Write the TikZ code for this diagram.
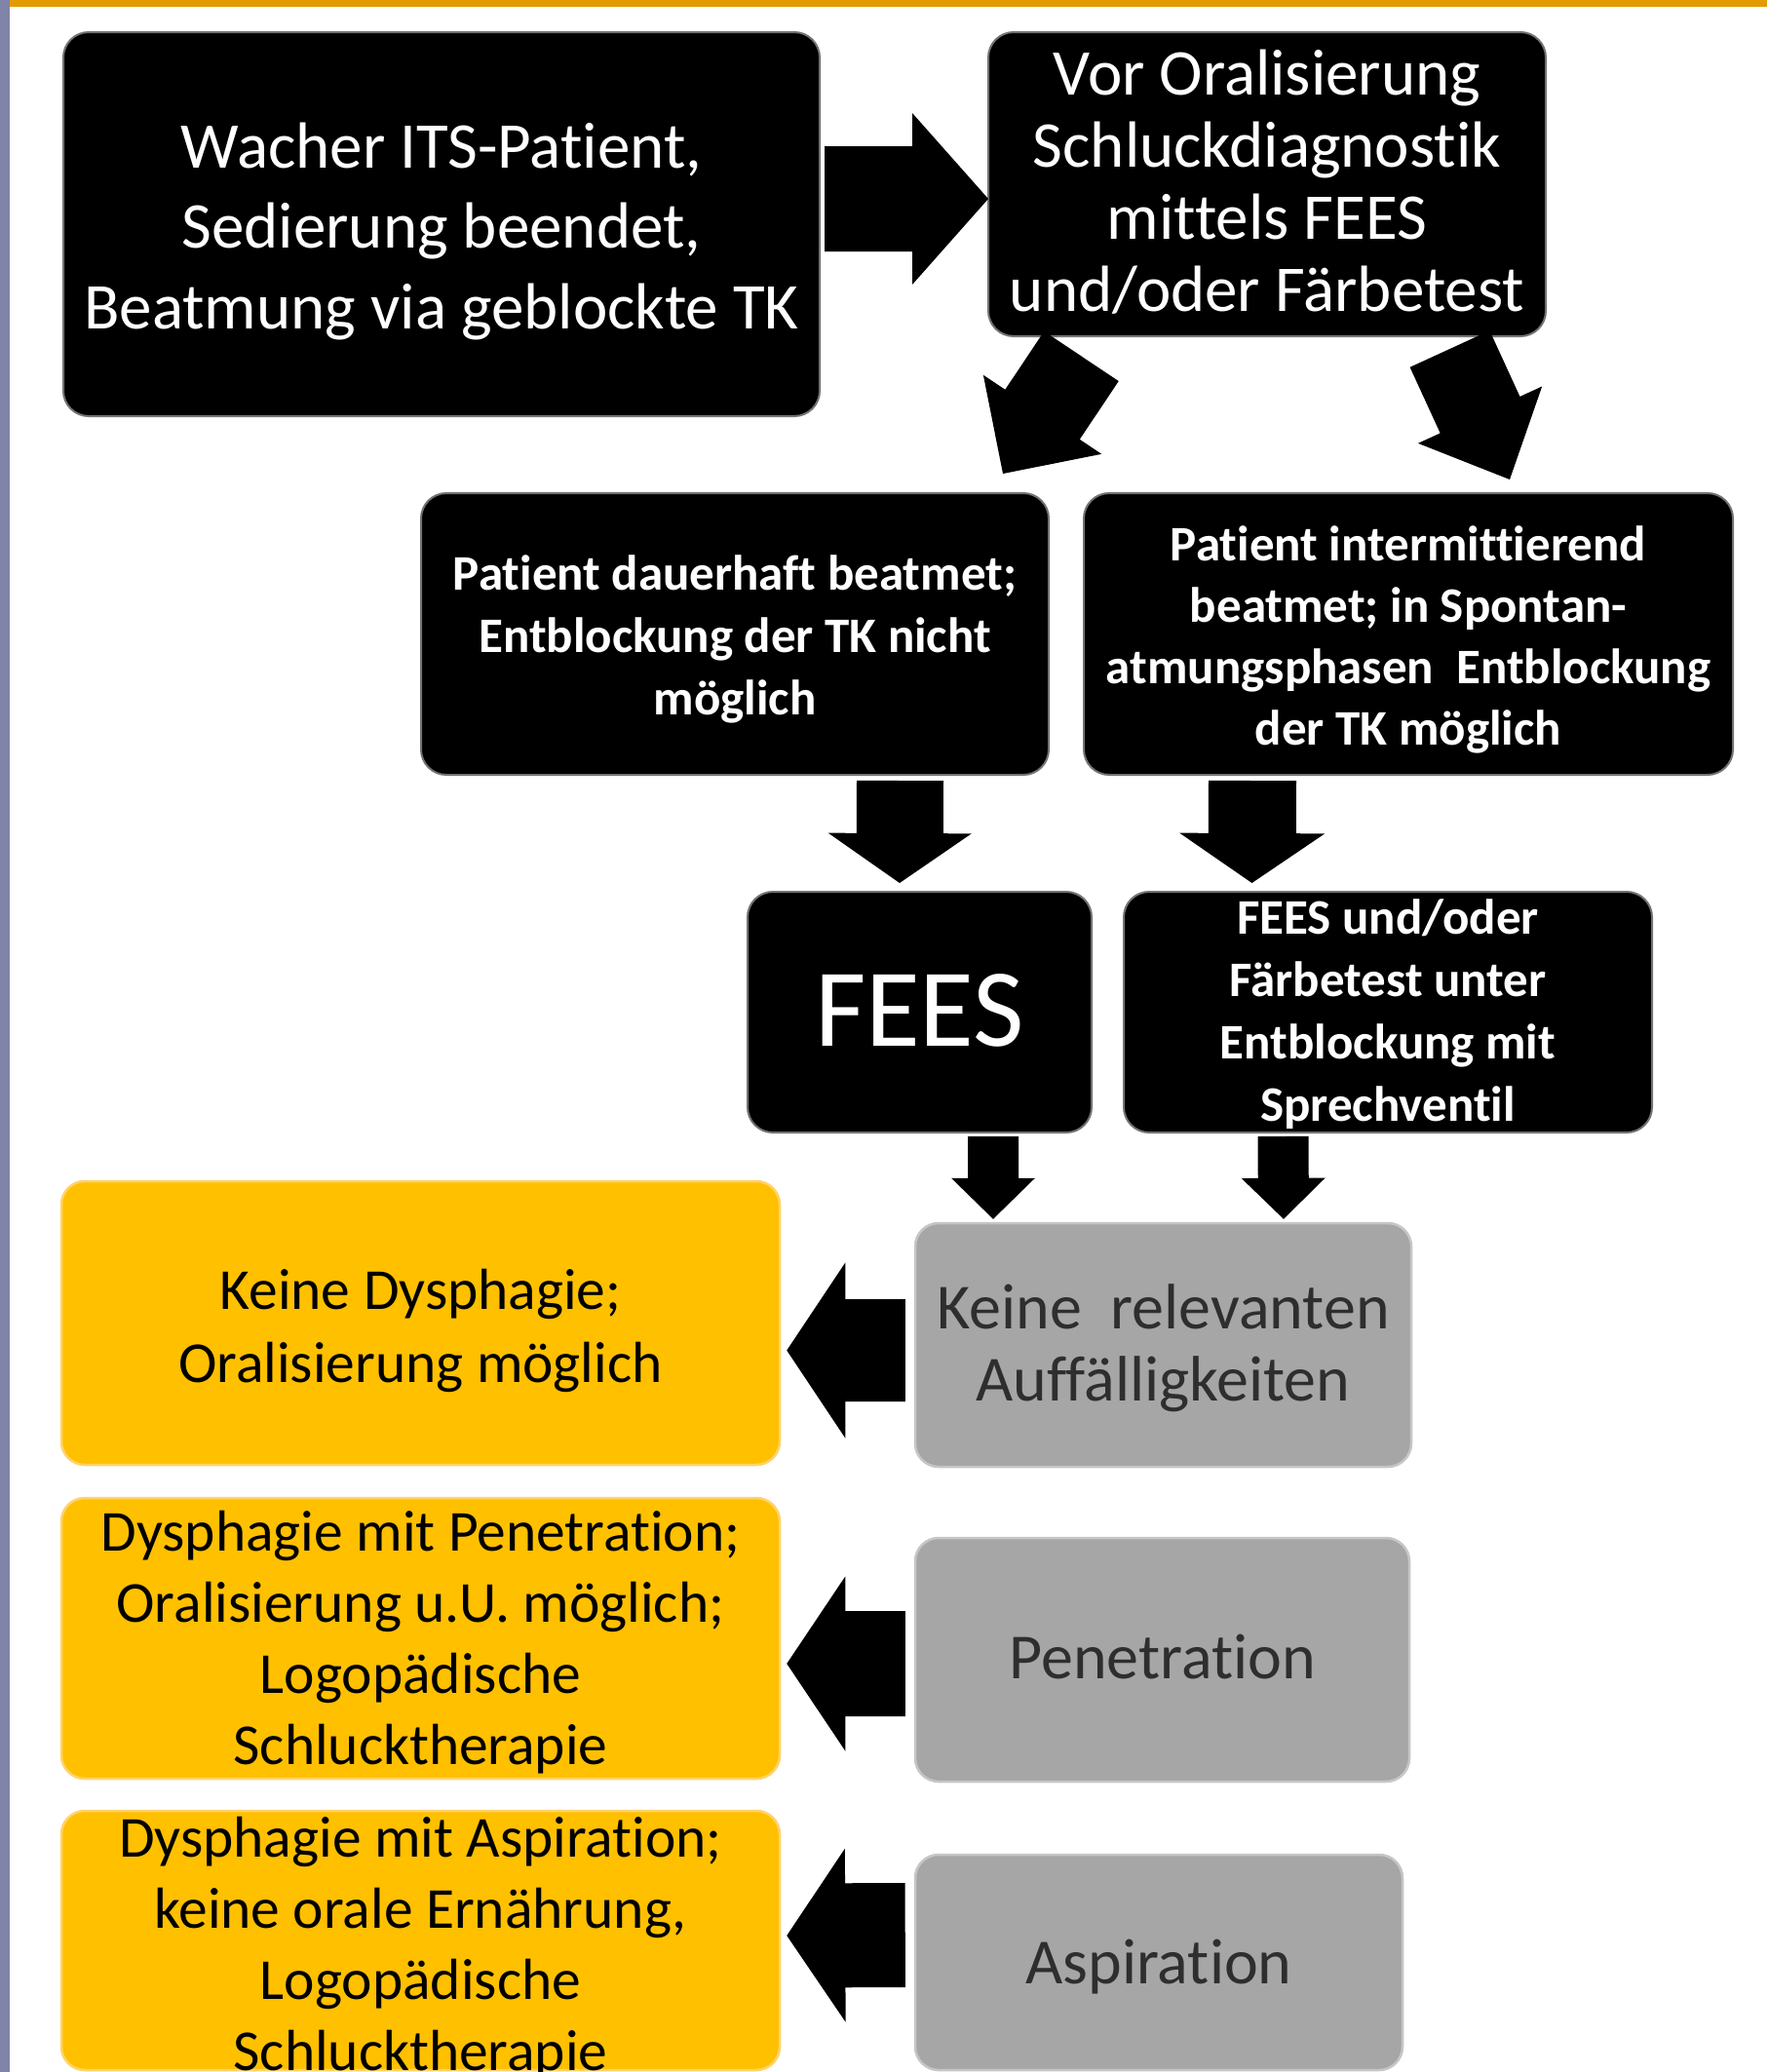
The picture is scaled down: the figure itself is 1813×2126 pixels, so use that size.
\documentclass[tikz,border=0pt]{standalone}
\usepackage{fontspec}
\setmainfont{Carlito}[Ligatures={TeX,NoCommon}]
\usetikzlibrary{calc}
\definecolor{gold}{HTML}{FFC000}
\definecolor{goldedge}{HTML}{FFD36B}
\definecolor{boxgray}{HTML}{A6A6A6}
\definecolor{grayedge}{HTML}{C6C6C6}
\definecolor{topband}{HTML}{E29B00}
\definecolor{sideband}{HTML}{7F84A8}
\definecolor{graytext}{HTML}{2E2E2E}
% #1 start, #2 tip, #3 half shaft width, #4 half head width, #5 head length
\newcommand{\blkarr}[5]{%
  \coordinate (bah) at ($(#2)!#5pt!(#1)$);
  \fill[arrowfill] ($(#1)!#3pt!90:(#2)$) -- ($(bah)!#3pt!90:(#2)$) -- ($(bah)!#4pt!90:(#2)$) -- (#2)
    -- ($(bah)!#4pt!-90:(#2)$) -- ($(bah)!#3pt!-90:(#2)$) -- ($(#1)!#3pt!-90:(#2)$) -- cycle;}
\begin{document}
\begin{tikzpicture}[x=1pt,y=-1pt,
  blackbox/.style={fill=black, draw=black!55, line width=2pt, rounded corners=26pt, inner sep=0pt},
  yellowbox/.style={fill=gold, draw=goldedge, line width=2.5pt, rounded corners=24pt, inner sep=0pt},
  graybox/.style={fill=boxgray, draw=grayedge, line width=2.5pt, rounded corners=24pt, inner sep=0pt},
  arrowfill/.style={fill=black},
  tw/.style={anchor=base, align=flush center, inner sep=0pt, text width=#1pt},
  bigw/.style={font=\fontsize{67}{82.5}\selectfont, text=white},
  bigv/.style={font=\fontsize{67}{74.3}\selectfont, text=white},
  midw/.style={font=\bfseries\fontsize{51}{64}\selectfont, text=white},
  midv/.style={font=\bfseries\fontsize{51}{63}\selectfont, text=white},
  feesw/.style={font=\fontsize{114}{120}\selectfont, text=white},
  ytxt/.style={font=\fontsize{59.5}{73}\selectfont, text=black},
  ytxtb/.style={font=\fontsize{59.5}{75}\selectfont, text=black},
  gtxt/.style={font=\fontsize{66}{74}\selectfont, text=graytext}]
\useasboundingbox (0,0) rectangle (1813,2126);
\clip (0,0) rectangle (1813,2126);
\fill[white] (0,0) rectangle (1813,2126);
\fill[topband] (0,0) rectangle (1813,7);
\fill[sideband] (0,0) rectangle (10,2126);

% boxes
\node[blackbox, minimum width=776pt, minimum height=394pt] (b1) at (453,230) {};
\node[blackbox, minimum width=572pt, minimum height=312pt] (b2) at (1300,189) {};
\node[blackbox, minimum width=644pt, minimum height=289pt] (b3) at (754,650.5) {};
\node[blackbox, minimum width=666pt, minimum height=289pt] (b4) at (1445,650.5) {};
\node[blackbox, minimum width=353pt, minimum height=247pt] (b5) at (943.5,1038.5) {};
\node[blackbox, minimum width=542pt, minimum height=247pt] (b6) at (1424,1038.5) {};
\node[graybox, minimum width=509pt, minimum height=250pt] (g1) at (1193.5,1380) {};
\node[graybox, minimum width=507pt, minimum height=250pt] (g2) at (1192.5,1703) {};
\node[graybox, minimum width=500pt, minimum height=221pt] (g3) at (1189,2013.5) {};
\node[yellowbox, minimum width=737pt, minimum height=291pt] (y1) at (431.5,1357.5) {};
\node[yellowbox, minimum width=737pt, minimum height=288pt] (y2) at (431.5,1681) {};
\node[yellowbox, minimum width=737pt, minimum height=266pt] (y3) at (431.5,1991) {};

% texts
\node[tw=770, bigw] (t1) at (453,172) {Wacher ITS-Patient,\\Sedierung beendet,\\Beatmung via geblockte TK};
\node[tw=566, bigv] (t2) at (1300,97) {Vor Oralisierung\\Schluckdiagnostik\\mittels FEES\\und/oder Färbetest};
\node[tw=640, midw] (t3) at (754,605) {Patient dauerhaft beatmet;\\Entblockung der TK nicht\\möglich};
\node[tw=662, midv] (t4) at (1445,575) {Patient intermittierend\\beatmet; in Spontan-\\atmungsphasen~~Entblockung\\der TK möglich};
\node[tw=350, feesw] (t5) at (943.5,1073) {FEES};
\node[tw=540, midw] (t6) at (1424,958) {FEES und/oder\\Färbetest unter\\Entblockung mit\\Sprechventil};
\node[tw=730, ytxtb] (ty1) at (431.5,1343) {Keine Dysphagie;\\Oralisierung möglich};
\node[tw=505, gtxt] (tg1) at (1193.5,1363) {Keine~~relevanten\\Auffälligkeiten};
\node[tw=730, ytxt] (ty2) at (431.5,1591) {Dysphagie mit Penetration;\\Oralisierung u.U. möglich;\\Logopädische\\Schlucktherapie};
\node[tw=505, gtxt] (tg2) at (1192.5,1722) {Penetration};
\node[tw=730, ytxt] (ty3) at (431.5,1905) {Dysphagie mit Aspiration;\\keine orale Ernährung,\\Logopädische\\Schlucktherapie};
\node[tw=495, gtxt] (tg3) at (1189,2035) {Aspiration};

% block arrows
\coordinate (a1s) at ($(b1.east)+(4,-26)$);
\coordinate (a1t) at ($(b2.west)+(1,15)$);
\blkarr{a1s}{a1t}{54}{88}{78}
\coordinate (a2s) at ($(b2.south west)+(96.5,19.5)$);
\coordinate (a2t) at ($(b3.north)+(275,-19)$);
\blkarr{a2s}{a2t}{46}{73}{73}
\coordinate (a3s) at ($(b2.south east)+(-99.5,12)$);
\coordinate (a3t) at ($(b4.north)+(104,-13)$);
\blkarr{a3s}{a3t}{45}{70}{73}
\coordinate (a4s) at ($(b3.south)+(169.5,5)$);
\coordinate (a4t) at ($(b5.north)+(-20.5,-8)$);
\blkarr{a4s}{a4t}{44.5}{73.5}{51}
\coordinate (a5s) at ($(b4.south)+(-160,5)$);
\coordinate (a5t) at ($(b6.north)+(-139.5,-8)$);
\blkarr{a5s}{a5t}{45}{74.5}{51}
\coordinate (a6s) at ($(b5.south)+(75.5,3)$);
\coordinate (a6t) at ($(g1.north)+(-174.5,-3)$);
\blkarr{a6s}{a6t}{26}{43}{42}
\coordinate (a7s) at ($(b6.south)+(-107.5,3)$);
\coordinate (a7t) at ($(g1.north)+(123.5,-3)$);
\blkarr{a7s}{a7t}{26}{43}{42}
\coordinate (a8s) at ($(g1.west)+(-9,5.5)$);
\coordinate (a8t) at ($(y1.east)+(6,28)$);
\blkarr{a8s}{a8t}{52.5}{90}{60}
\coordinate (a9s) at ($(g2.west)+(-9,4)$);
\coordinate (a9t) at ($(y2.east)+(6,26)$);
\blkarr{a9s}{a9t}{54}{89.5}{60}
\coordinate (a10s) at ($(g3.west)+(-9,-28)$);
\coordinate (a10t) at ($(y3.east)+(6,-5)$);
\blkarr{a10s}{a10t}{53.5}{89}{60}
\end{tikzpicture}
\end{document}
